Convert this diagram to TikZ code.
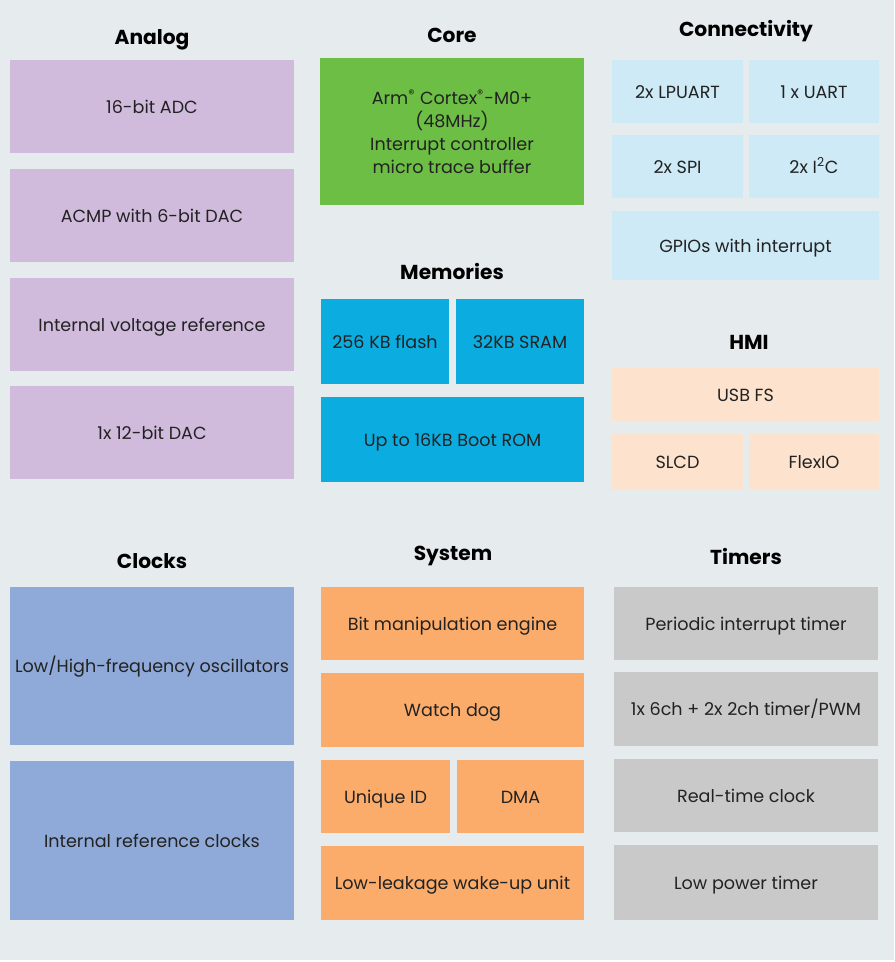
\documentclass[tikz,border=0pt]{standalone}
\usepackage{fontspec}
\setmainfont{Poppins}
\usepackage{tikz}
\usetikzlibrary{positioning}
\usepackage{xcolor}

\definecolor{bgcol}{HTML}{E6ECEE}
\definecolor{analogcol}{HTML}{D1BBDD}
\definecolor{corecol}{HTML}{6DBE45}
\definecolor{memcol}{HTML}{0BADE0}
\definecolor{conncol}{HTML}{CDEAF6}
\definecolor{hmicol}{HTML}{FDE3CE}
\definecolor{clkcol}{HTML}{8FAAD8}
\definecolor{syscol}{HTML}{FBAC6A}
\definecolor{tmrcol}{HTML}{C9C9C9}
\definecolor{txtcol}{HTML}{222222}

\tikzset{
  blk/.style={rectangle, inner sep=0pt, align=center, text=txtcol,
    font=\fontsize{10}{13}\selectfont},
  oneline/.style={blk, text height=0.92em, text depth=0.17em},
  sz/.style 2 args={minimum width=#1cm, minimum height=#2cm},
  grouptitle/.style={font=\fontsize{11.5}{14}\selectfont\bfseries, text=black}
}

\begin{document}
\begin{tikzpicture}[x=0.02cm, y=-0.02cm]
    % background and bounding box
    \useasboundingbox (0,0) rectangle (894,962);
    \fill[bgcol] (0,0) rectangle (894,960);

    % Group titles
    \node[grouptitle] (analogT) at (152,40) {Analog};
    \node[grouptitle] (coreT) at (452,35) {Core};
    \node[grouptitle] (memT) at (452,271) {Memories};
    \node[grouptitle] (connT) at (746,31) {Connectivity};
    \node[grouptitle] (hmiT) at (749,342) {HMI};
    \node[grouptitle] (clkT) at (152,561) {Clocks};
    \node[grouptitle] (sysT) at (453,556) {System};
    \node[grouptitle] (tmrT) at (746,556) {Timers};

    % Analog
    \node[oneline, fill=analogcol, sz={5.68}{1.86}] (adc) at (152,106.5) {16-bit ADC};
    \node[oneline, fill=analogcol, sz={5.68}{1.86}] (acmp) at (152,215.5) {ACMP with 6-bit DAC};
    \node[oneline, fill=analogcol, sz={5.68}{1.86}] (vref) at (152,324.5) {Internal voltage reference};
    \node[oneline, fill=analogcol, sz={5.68}{1.86}] (dac) at (152,432.5) {1x 12-bit DAC};

    % Core
    \node[blk, fill=corecol, sz={5.28}{2.94}] (cpu) at (452,131.5)
      {Arm\textsuperscript{®} Cortex\textsuperscript{®}-M0+\\(48MHz)\\Interrupt controller\\micro trace buffer};

    % Memories
    \node[oneline, fill=memcol, sz={2.56}{1.7}] (flash) at (385,341.5) {256 KB flash};
    \node[oneline, fill=memcol, sz={2.56}{1.7}] (sram) at (520,341.5) {32KB SRAM};
    \node[oneline, fill=memcol, sz={5.26}{1.7}] (rom) at (452.5,439.5) {Up to 16KB Boot ROM};

    % Connectivity
    \node[oneline, fill=conncol, sz={2.62}{1.26}] (lpuart) at (677.5,91.5) {2x LPUART};
    \node[oneline, fill=conncol, sz={2.6}{1.26}] (uart) at (814,91.5) {1 x UART};
    \node[oneline, fill=conncol, sz={2.62}{1.26}] (spi) at (677.5,166.5) {2x SPI};
    \node[oneline, fill=conncol, sz={2.6}{1.26}] (iic) at (814,166.5) {2x I\textsuperscript{2}C};
    \node[oneline, fill=conncol, sz={5.34}{1.38}] (gpio) at (745.5,245.5) {GPIOs with interrupt};

    % HMI
    \node[oneline, fill=hmicol, sz={5.34}{1.06}] (usb) at (745.5,394.5) {USB FS};
    \node[oneline, fill=hmicol, sz={2.62}{1.12}] (slcd) at (677.5,462) {SLCD};
    \node[oneline, fill=hmicol, sz={2.6}{1.12}] (flexio) at (814,462) {FlexIO};

    % Clocks
    \node[oneline, fill=clkcol, sz={5.68}{3.16}] (osc) at (152,666) {Low/High-frequency oscillators};
    \node[oneline, fill=clkcol, sz={5.68}{3.18}] (irc) at (152,840.5) {Internal reference clocks};

    % System
    \node[oneline, fill=syscol, sz={5.26}{1.46}] (bme) at (452.5,623.5) {Bit manipulation engine};
    \node[oneline, fill=syscol, sz={5.26}{1.48}] (wdog) at (452.5,710) {Watch dog};
    \node[oneline, fill=syscol, sz={2.58}{1.46}] (uid) at (385.5,796.5) {Unique ID};
    \node[oneline, fill=syscol, sz={2.54}{1.46}] (dma) at (520.5,796.5) {DMA};
    \node[oneline, fill=syscol, sz={5.26}{1.48}] (llwu) at (452.5,883) {Low-leakage wake-up unit};

    % Timers
    \node[oneline, fill=tmrcol, sz={5.28}{1.46}] (pit) at (746,623.5) {Periodic interrupt timer};
    \node[oneline, fill=tmrcol, sz={5.28}{1.48}] (tpm) at (746,709) {1x 6ch + 2x 2ch timer/PWM};
    \node[oneline, fill=tmrcol, sz={5.28}{1.46}] (rtc) at (746,795.5) {Real-time clock};
    \node[oneline, fill=tmrcol, sz={5.28}{1.5}] (lpt) at (746,882.5) {Low power timer};
\end{tikzpicture}
\end{document}
